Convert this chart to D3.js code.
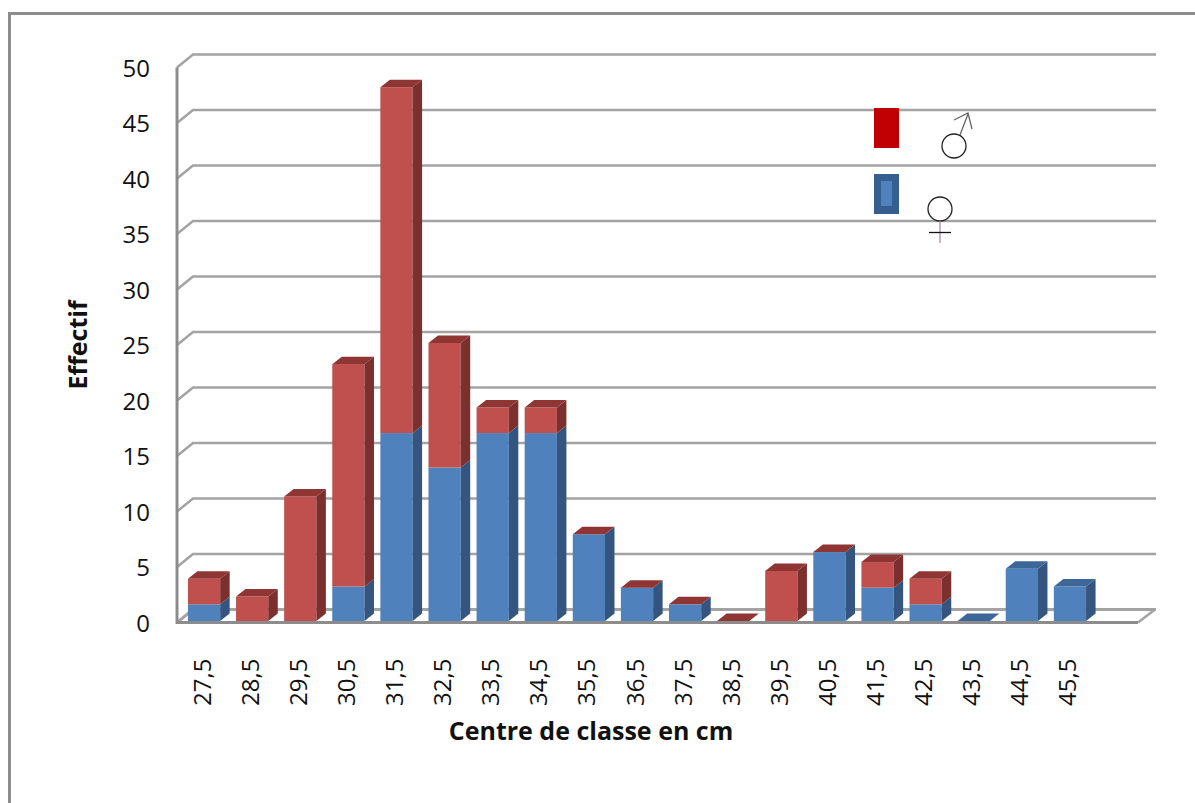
<!DOCTYPE html>
<html><head><meta charset="utf-8">
<script src="https://cdn.jsdelivr.net/npm/d3@7"></script>
<style>html,body{margin:0;padding:0;background:#fff}svg{display:block}text{font-family:"Open Sans","Noto Sans",sans-serif;fill:#111}</style>
</head><body><div id="c"></div>
<script>
const categories=["27,5","28,5","29,5","30,5","31,5","32,5","33,5","34,5","35,5","36,5","37,5","38,5","39,5","40,5","41,5","42,5","43,5","44,5","45,5"];
const femaleValues=[1.5,0,0,3.1,16.9,13.8,16.9,16.9,7.8,3,1.5,0,0,6.2,3,1.5,0,4.7,3.1];
const maleValues=[2.3,2.2,11.2,20,31.1,11.2,2.3,2.3,0,0,0,0,4.5,0,2.3,2.3,null,null,null];
const yTicks=[0,5,10,15,20,25,30,35,40,45,50];
const yTitle="Effectif", xTitle="Centre de classe en cm";

const W=1195,H=803;
const svg=d3.select("#c").append("svg").attr("width",W).attr("height",H);
const grid="#a3a3a3", frame="#8c8c8c";
svg.append("path").attr("d","M9.5,803V13.5H1195").attr("fill","none").attr("stroke",frame).attr("stroke-width",3);

const y=d3.scaleLinear().domain([0,50]).range([622.5,67.5]);
const barY=d3.scaleLinear().domain([0,50]).range([621,65]);
const x=d3.scaleBand().domain(categories).range([180,1094]).paddingInner(0.33).paddingOuter(0.165);
const wallDx=16, wallDy=-13, floorEnd=1138;

const g=svg.append("g");
yTicks.forEach(t=>{
  const p=y(t);
  const sw=t===0?3:2.5;
  g.append("path").attr("d",`M177,${p}L${177+wallDx},${p+wallDy}H1156`).attr("fill","none").attr("stroke",grid).attr("stroke-width",sw);
});
g.append("path").attr("d",`M${floorEnd},${y(0)}L${floorEnd+wallDx+1},${y(0)+wallDy}`).attr("fill","none").attr("stroke",grid).attr("stroke-width",2.5);
g.append("path").attr("d",`M177,${y(50)}V${y(0)}H${floorEnd}`).attr("fill","none").attr("stroke",frame).attr("stroke-width",3);

const yAxis=d3.axisLeft(y).tickValues(yTicks).tickSize(0).tickPadding(26);
const ya=svg.append("g").attr("transform","translate(177,1)").call(yAxis);
ya.select(".domain").remove();
ya.selectAll("text").attr("font-size",24).attr("text-anchor","end").attr("x",-27).style("font-family",'"Open Sans",sans-serif');

const xa=svg.append("g");
xa.selectAll("text").data(categories).join("text")
  .attr("transform",d=>`translate(${x(d)+x.bandwidth()/2+6.5},706) rotate(-90)`)
  .attr("font-size",24).text(d=>d);

const dx=9.5,dy=-7.5;
const cols={f:{front:"#4f81bd",top:"#3d6799",side:"#34557f"},m:{front:"#c0504d",top:"#8f3634",side:"#7b302e"}};
function block(sel,xp,w,y0,y1,c,showTop){
  sel.append("rect").attr("x",xp).attr("y",y1).attr("width",w).attr("height",Math.max(0,y0-y1)).attr("fill",c.front);
  sel.append("path").attr("d",`M${xp+w},${y1}l${dx},${dy}V${y0+dy}l${-dx},${-dy}Z`).attr("fill",c.side);
  if(showTop) sel.append("path").attr("d",`M${xp},${y1}l${dx},${dy}h${w}l${-dx},${-dy}Z`).attr("fill",c.top);
}
const bars=svg.append("g");
categories.forEach((c,i)=>{
  const b=bars.append("g");
  const f=femaleValues[i], m=maleValues[i];
  const xp=x(c), w=x.bandwidth();
  block(b,xp,w,barY(0),barY(f),cols.f,m===null);
  if(m!==null) block(b,xp,w,barY(f),barY(f+m),cols.m,true);
});

svg.append("text").attr("transform","translate(87,345) rotate(-90)").attr("text-anchor","middle").attr("font-size",25).attr("font-weight",700).text(yTitle);
svg.append("text").attr("x",591).attr("y",740).attr("text-anchor","middle").attr("font-size",25).attr("font-weight",700).text(xTitle);

const l=svg.append("g");
l.append("rect").attr("x",874).attr("y",108).attr("width",25).attr("height",40).attr("fill","#c00000");
l.append("rect").attr("x",874).attr("y",174).attr("width",25).attr("height",40).attr("fill","#365f91");
l.append("rect").attr("x",881).attr("y",181).attr("width",11).attr("height",25).attr("fill","#4f81bd");
l.append("circle").attr("cx",954).attr("cy",146).attr("r",12).attr("fill","#fff").attr("stroke","#222").attr("stroke-width",1.3);
l.append("path").attr("d","M960,135L968,114M954,120L968,113L972,129").attr("fill","none").attr("stroke","#666").attr("stroke-width",1.3);
l.append("circle").attr("cx",940).attr("cy",209).attr("r",12).attr("fill","#fff").attr("stroke","#222").attr("stroke-width",1.3);
l.append("path").attr("d","M940,221V243").attr("stroke","#a58aa5").attr("stroke-width",1.3);
l.append("path").attr("d","M929,232.5H951").attr("stroke","#111").attr("stroke-width",1.3);
</script></body></html>
